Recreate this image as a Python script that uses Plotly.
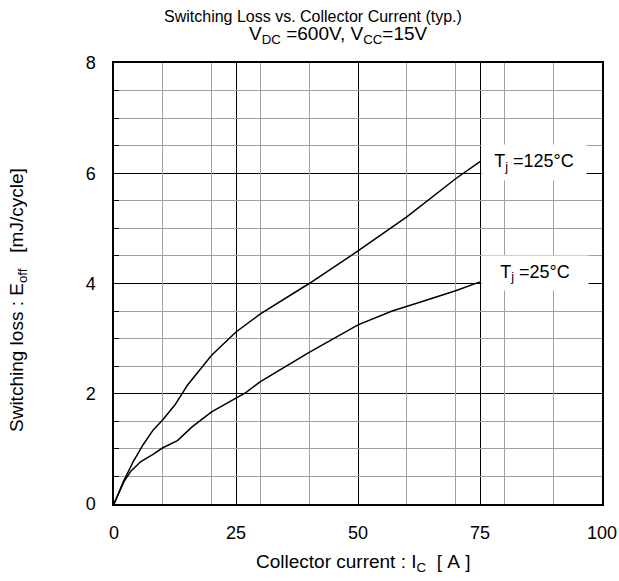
import plotly.graph_objects as go

# Collector current [A] and turn-off loss [mJ/cycle]
ic_125 = [0, 2, 4, 6, 8, 10, 12.5, 15, 20, 25, 30, 34, 40, 50, 60, 70, 75]
eoff_125 = [0, 0.42, 0.78, 1.08, 1.34, 1.53, 1.8, 2.15, 2.7, 3.12, 3.45, 3.67, 4.0, 4.59, 5.21, 5.9, 6.21]

ic_25 = [0, 2, 3.5, 5.5, 8, 10, 13, 16, 20, 25, 27, 30, 34, 40, 50, 57, 63, 70, 75]
eoff_25 = [0, 0.4, 0.6, 0.77, 0.9, 1.02, 1.15, 1.4, 1.67, 1.92, 2.02, 2.22, 2.43, 2.75, 3.25, 3.5, 3.67, 3.87, 4.03]

x_ticks = [0, 25, 50, 75, 100]
y_ticks = [0, 2, 4, 6, 8]
# light grid lines between the labelled ones
x_minor = [10, 20, 30, 40, 60, 70, 80, 90]
y_minor = [0.5, 1, 1.5, 2.5, 3, 3.5, 4.5, 5, 5.5, 6.5, 7, 7.5]

FONT = "Liberation Sans, Arial, sans-serif"
NB = "\u00a0"

W, H = 619, 581
L, R, T, B = 114, 17, 63, 77
pw, ph = W - L - R, H - T - B


def px_to_paper(xp, yp):
    # pixel position (from top-left of the page) -> paper coordinates
    return (xp - L) / pw, (H - yp - B) / ph


fig = go.Figure()
# invisible carrier so the light-grid axes get drawn
fig.add_trace(go.Scatter(x=[None], y=[None], xaxis="x2", yaxis="y2", showlegend=False, hoverinfo="skip"))
fig.add_trace(go.Scatter(x=ic_125, y=eoff_125, mode="lines", line=dict(color="black", width=1.5), showlegend=False))
fig.add_trace(go.Scatter(x=ic_25, y=eoff_25, mode="lines", line=dict(color="black", width=1.5), showlegend=False))

common = dict(zeroline=False, automargin=False, showgrid=True)
fig.update_layout(
    xaxis=dict(range=[0, 100], tickvals=x_ticks, ticks="", ticklabelstandoff=12,
               gridcolor="black", gridwidth=1, showline=True, linecolor="black", linewidth=1.5, mirror=True,
               tickfont=dict(size=18, color="black"), **common),
    yaxis=dict(range=[0, 8], tickvals=y_ticks, ticks="", ticklabelstandoff=13,
               gridcolor="black", gridwidth=1, showline=True, linecolor="black", linewidth=1.5, mirror=True,
               tickfont=dict(size=18, color="black"), **common),
    xaxis2=dict(range=[0, 100], overlaying="x", anchor="y2", side="bottom", tickvals=x_minor,
                showticklabels=False, ticks="", gridcolor="rgb(160,160,160)", gridwidth=1.2, **common),
    yaxis2=dict(range=[0, 8], overlaying="y", anchor="x2", side="left", tickvals=y_minor,
                showticklabels=False, ticks="inside", ticklen=5, tickcolor="black", tickwidth=1,
                gridcolor="rgb(160,160,160)", gridwidth=1.2, **common),
)

fig.add_annotation(x=86, y=6.2, xref="x", yref="y", text="T<sub>j</sub> =125°C", showarrow=False,
                   bgcolor="white", width=102, height=33, font=dict(size=18, color="black"))
fig.add_annotation(x=86.3, y=4.19, xref="x", yref="y", text="T<sub>j</sub> =25°C", showarrow=False,
                   bgcolor="white", width=104, height=32, font=dict(size=18, color="black"))

texts = [
    (313, 17, "Switching Loss vs. Collector Current (typ.)", 0, 16),
    (338, 35, "V<sub>DC</sub> =600V, V<sub>CC</sub>=15V", 0, 19),
    (363, 563, f"Collector current{NB}:{NB}I<sub>C</sub>{NB}{NB}[{NB}A{NB}]", 0, 19),
    (18, 300, f"Switching loss : E<sub>off</sub>{NB}{NB}{NB}[mJ/cycle]", -90, 19),
]
for xp, yp, txt, ang, size in texts:
    xx, yy = px_to_paper(xp, yp)
    fig.add_annotation(x=xx, y=yy, xref="paper", yref="paper", xanchor="center", yanchor="middle",
                       text=txt, textangle=ang, showarrow=False, font=dict(size=size, color="black"))

fig.update_layout(
    width=W, height=H,
    margin=dict(l=L, r=R, t=T, b=B, autoexpand=False),
    paper_bgcolor="white", plot_bgcolor="white",
    font=dict(family=FONT, color="black"),
)

fig.write_html("out.html", config={"displayModeBar": False},
               post_script="document.body.style.margin='0px';")
